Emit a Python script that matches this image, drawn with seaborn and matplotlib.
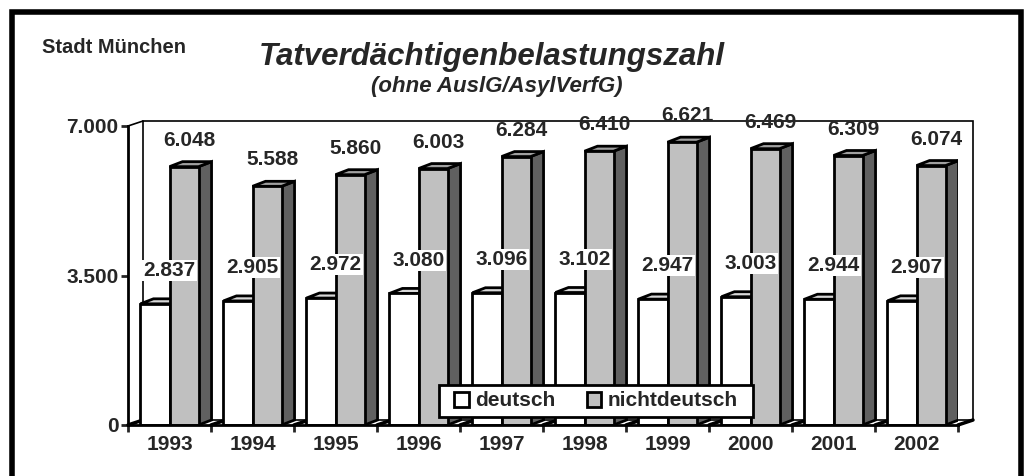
import numpy as np
import pandas as pd
import matplotlib
matplotlib.use('Agg')
import matplotlib.pyplot as plt
import seaborn as sns
from matplotlib.patches import Polygon, Rectangle, Patch
from matplotlib.lines import Line2D

# Daten
jahre = ['1993', '1994', '1995', '1996', '1997', '1998', '1999', '2000', '2001', '2002']
deutsch = [2837, 2905, 2972, 3080, 3096, 3102, 2947, 3003, 2944, 2907]
nichtdeutsch = [6048, 5588, 5860, 6003, 6284, 6410, 6621, 6469, 6309, 6074]
gruppen = ['deutsch', 'nichtdeutsch']
y_ticks = [0, 3500, 7000]

sns.set_style('white')
plt.rcParams['font.family'] = ['Liberation Sans', 'DejaVu Sans']
plt.rcParams['font.weight'] = 'bold'

def de_fmt(v):
    return f'{v:,}'.replace(',', '.')

df = pd.DataFrame({
    'Jahr': jahre * 2,
    'Wert': deutsch + nichtdeutsch,
    'Gruppe': [gruppen[0]] * len(jahre) + [gruppen[1]] * len(jahre),
})

W_PX, H_PX = 1026, 476
fig = plt.figure(figsize=(W_PX / 100, H_PX / 100), dpi=100)
fig.patch.set_facecolor('white')

# Achsenbereich (Vorderkante des 3D-Diagramms)
ax_l, ax_r, ax_b, ax_t = 128, 958, 425, 126
ax = fig.add_axes([ax_l / W_PX, 1 - ax_b / H_PX, (ax_r - ax_l) / W_PX, (ax_b - ax_t) / H_PX])
ax.patch.set_alpha(0)
n = len(jahre)

# Pixel -> Dateneinheiten
px_x = n / (ax_r - ax_l)
px_y = 7000 / (ax_b - ax_t)
wall_dx, wall_dy = 15 * px_x, 5 * px_y
bar_dx, bar_dy = 13 * px_x, 5 * px_y

sns.barplot(data=df, x='Jahr', y='Wert', hue='Gruppe', palette=['white', '#c0c0c0'],
            edgecolor='black', linewidth=2, width=0.7, saturation=1, legend=False, ax=ax)
ax.set_xlim(-0.5, n - 0.5)
ax.set_ylim(0, 7000)

# Rueckwand und Boden
back = Polygon([(-0.5 + wall_dx, wall_dy), (n - 0.5 + wall_dx, wall_dy),
                (n - 0.5 + wall_dx, 7000 + wall_dy), (-0.5 + wall_dx, 7000 + wall_dy)],
               closed=True, facecolor='white', edgecolor='black', lw=1.2, zorder=0.5, clip_on=False)
ax.add_patch(back)
ax.add_line(Line2D([-0.5, -0.5 + wall_dx], [7000, 7000 + wall_dy], color='black', lw=1.2, clip_on=False, zorder=0.6))
ax.add_line(Line2D([n - 0.5, n - 0.5 + wall_dx], [0, wall_dy], color='black', lw=1.5, clip_on=False, zorder=0.6))
for b in np.arange(-0.5, n, 1):
    ax.add_line(Line2D([b, b + wall_dx], [0, wall_dy], color='black', lw=2.5, clip_on=False, zorder=0.7))

# 3D-Seiten und Deckflaechen
bars_w = list(ax.containers[0])
bars_g = list(ax.containers[1])
for grey, bars in [(False, bars_w), (True, bars_g)]:
    z = 4 if grey else 2
    for p in bars:
        x0, w, h = p.get_x(), p.get_width(), p.get_height()
        p.set_zorder(z)
        side = Polygon([(x0 + w, 0), (x0 + w + bar_dx, bar_dy), (x0 + w + bar_dx, h + bar_dy), (x0 + w, h)],
                       closed=True, facecolor='#606060', edgecolor='black', lw=2, zorder=z - 0.1)
        top = Polygon([(x0, h), (x0 + bar_dx, h + bar_dy), (x0 + w + bar_dx, h + bar_dy), (x0 + w, h)],
                      closed=True, facecolor='#a0a0a0' if grey else '#d8d8d8', edgecolor='black', lw=2,
                      zorder=z - 0.1)
        ax.add_patch(side)
        ax.add_patch(top)

# Werte-Beschriftungen
for i in range(n):
    pw = bars_w[i]
    pg = bars_g[i]
    ax.annotate(de_fmt(nichtdeutsch[i]), (pg.get_x() + pg.get_width() / 2, nichtdeutsch[i]),
                xytext=(4, 19), textcoords='offset points', ha='center', va='center',
                fontsize=15, fontweight='bold', zorder=10, annotation_clip=False)
    ax.annotate(de_fmt(deutsch[i]), (pw.get_x() + pw.get_width(), deutsch[i]),
                xytext=(0, 24), textcoords='offset points', ha='center', va='center',
                fontsize=15, fontweight='bold', zorder=10,
                bbox=dict(boxstyle='square,pad=0.05', facecolor='white', edgecolor='none'))

# Achsen
for s in ['top', 'right']:
    ax.spines[s].set_visible(False)
for s in ['left', 'bottom']:
    ax.spines[s].set_linewidth(2)
    ax.spines[s].set_color('black')
    ax.spines[s].set_zorder(6)
ax.set_yticks(y_ticks)
ax.set_yticklabels([de_fmt(v) for v in y_ticks], fontsize=15, fontweight='bold')
ax.set_xticks(np.arange(-0.5, n, 1))
ax.set_xticklabels([''] * (n + 1))
ax.set_xticks(np.arange(n), minor=True)
ax.set_xticklabels(jahre, minor=True, fontsize=15, fontweight='bold')
ax.tick_params(axis='y', direction='out', length=5, width=2, pad=2, left=True)
ax.tick_params(axis='x', which='major', direction='out', length=5, width=2, bottom=True)
ax.tick_params(axis='x', which='minor', length=0, pad=7)
ax.set_xlabel('')
ax.set_ylabel('')

# Titel
fig.text(42 / W_PX, 1 - 53 / H_PX, 'Stadt München', fontsize=14.5, fontweight='bold', ha='left', va='baseline')
fig.text(492 / W_PX, 1 - 65 / H_PX, 'Tatverdächtigenbelastungszahl', fontsize=22.5,
         fontweight='bold', fontstyle='italic', ha='center', va='baseline')
fig.text(497 / W_PX, 1 - 92 / H_PX, '(ohne AuslG/AsylVerfG)', fontsize=16,
         fontweight='bold', fontstyle='italic', ha='center', va='baseline')

# Legende (Rahmen separat, etwas breiter wie im Original)
handles = [Patch(facecolor='white', edgecolor='black', lw=2),
           Patch(facecolor='#c0c0c0', edgecolor='black', lw=2)]
leg = fig.legend(handles, gruppen, loc='center', bbox_to_anchor=(596 / W_PX, 1 - 401 / H_PX),
                 ncol=2, frameon=False, fontsize=15, handlelength=0.7, handleheight=0.7,
                 handletextpad=0.3, columnspacing=1.5, borderpad=0.25, borderaxespad=0)
leg.set_zorder(6)
for t in leg.get_texts():
    t.set_fontweight('bold')
fig.canvas.draw()
bb = leg.get_window_extent().transformed(fig.transFigure.inverted())
pad_x, pad_y = 10 / W_PX, 1 / H_PX
fig.patches.append(Rectangle((bb.x0 - pad_x, bb.y0 - pad_y), bb.width + 2 * pad_x, bb.height + 2 * pad_y,
                             transform=fig.transFigure, facecolor='white', edgecolor='black', lw=2,
                             zorder=5.5))

# Rahmen
fig.patches.append(Rectangle((12 / W_PX, -0.05), (1021 - 12) / W_PX, 1.05 - 12 / H_PX,
                             transform=fig.transFigure, fill=False, edgecolor='black', lw=4))

fig.savefig('out.png', dpi=100)
